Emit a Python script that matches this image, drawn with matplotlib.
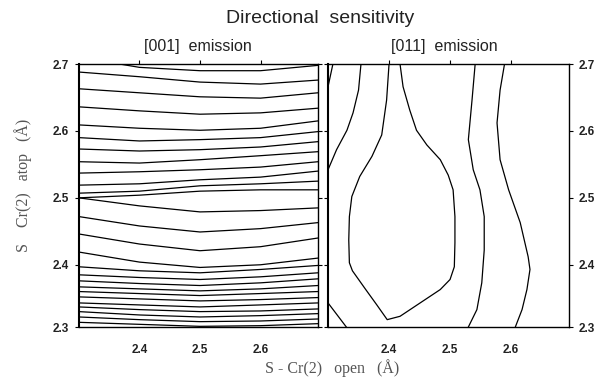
import numpy as np
import matplotlib
matplotlib.use('Agg')
import matplotlib.pyplot as plt

plt.rcParams['font.family'] = ['Liberation Sans', 'DejaVu Sans']

x_cols = [2.30, 2.40, 2.50, 2.60, 2.695]

top_001_x = [2.367, 2.40, 2.50, 2.60, 2.695]
top_001_y = [2.700, 2.695, 2.690, 2.690, 2.698]

upper_001 = [
    [2.688, 2.681, 2.673, 2.670, 2.676],
    [2.663, 2.657, 2.651, 2.649, 2.657],
    [2.636, 2.630, 2.625, 2.627, 2.634],
    [2.609, 2.604, 2.601, 2.604, 2.615],
    [2.590, 2.585, 2.587, 2.590, 2.599],
    [2.573, 2.570, 2.572, 2.576, 2.584],
    [2.554, 2.552, 2.557, 2.563, 2.569],
    [2.537, 2.539, 2.542, 2.546, 2.554],
    [2.519, 2.521, 2.527, 2.531, 2.540],
    [2.507, 2.510, 2.518, 2.521, 2.525],
    [2.500, 2.504, 2.510, 2.512, 2.512],
]

lower_001 = [
    [2.500, 2.488, 2.479, 2.481, 2.485],
    [2.472, 2.458, 2.449, 2.454, 2.463],
    [2.446, 2.431, 2.421, 2.427, 2.440],
    [2.419, 2.404, 2.396, 2.400, 2.410],
    [2.397, 2.391, 2.388, 2.393, 2.399],
    [2.385, 2.381, 2.378, 2.382, 2.388],
    [2.376, 2.372, 2.369, 2.373, 2.379],
    [2.367, 2.364, 2.361, 2.364, 2.369],
    [2.360, 2.357, 2.354, 2.357, 2.360],
    [2.352, 2.349, 2.346, 2.348, 2.351],
    [2.343, 2.340, 2.337, 2.340, 2.343],
    [2.337, 2.333, 2.330, 2.331, 2.334],
    [2.330, 2.325, 2.322, 2.324, 2.327],
    [2.322, 2.318, 2.315, 2.316, 2.319],
    [2.314, 2.311, 2.308, 2.309, 2.312],
]

# contour lines of the [011] panel (x, y pairs in Å)
curve_a_x = [2.308, 2.300]
curve_a_y = [2.700, 2.666]

curve_b_x = [2.354, 2.350, 2.341, 2.331, 2.314, 2.300]
curve_b_y = [2.700, 2.661, 2.627, 2.601, 2.572, 2.542]

curve_c_x = [2.400, 2.396, 2.388, 2.372, 2.352, 2.339, 2.335, 2.334, 2.335,
             2.340, 2.361, 2.380, 2.397, 2.418, 2.451, 2.484, 2.500, 2.507,
             2.508, 2.508, 2.505, 2.497, 2.484, 2.462, 2.445, 2.434, 2.423,
             2.418]
curve_c_y = [2.700, 2.646, 2.594, 2.562, 2.532, 2.502, 2.472, 2.437, 2.403,
             2.391, 2.364, 2.340, 2.318, 2.323, 2.343, 2.363, 2.378, 2.397,
             2.433, 2.472, 2.512, 2.534, 2.557, 2.579, 2.601, 2.631, 2.666,
             2.700]

curve_d_x = [2.300, 2.330]
curve_d_y = [2.343, 2.307]

curve_e_x = [2.541, 2.536, 2.530, 2.538, 2.549, 2.556, 2.556, 2.552, 2.544, 2.530]
curve_e_y = [2.6985, 2.646, 2.587, 2.542, 2.512, 2.472, 2.422, 2.373, 2.333, 2.307]

curve_f_x = [2.589, 2.582, 2.577, 2.582, 2.596, 2.615, 2.628, 2.631, 2.626, 2.618, 2.607]
curve_f_y = [2.6985, 2.661, 2.612, 2.557, 2.512, 2.463, 2.412, 2.393, 2.363, 2.333, 2.307]

y_ticks = [2.307, 2.4, 2.5, 2.6, 2.7]
y_ticklabels = ['2.3', '2.4', '2.5', '2.6', '2.7']
x_ticks = [2.4, 2.5, 2.6]
x_ticklabels = ['2.4', '2.5', '2.6']

fig = plt.figure(figsize=(6.01, 3.77), dpi=100)
ax1 = fig.add_axes([0.1314, 0.1326, 0.3977, 0.6976])
ax2 = fig.add_axes([0.5458, 0.1326, 0.4010, 0.6976])

lc = dict(color='black', lw=0.9)

ax1.plot(top_001_x, top_001_y, **lc)
for line in upper_001 + lower_001:
    ax1.plot(x_cols, line, **lc)

for cx, cy in [(curve_a_x, curve_a_y), (curve_b_x, curve_b_y),
               (curve_c_x, curve_c_y), (curve_d_x, curve_d_y),
               (curve_e_x, curve_e_y), (curve_f_x, curve_f_y)]:
    ax2.plot(cx, cy, **lc)

tick_font = dict(fontsize=8.5, fontweight='bold', color='#222222')
for ax in (ax1, ax2):
    ax.set_xlim(2.3, 2.695)
    ax.set_ylim(2.307, 2.7)
    ax.set_xticks(x_ticks)
    ax.set_xticklabels(x_ticklabels, **tick_font)
    ax.set_yticks(y_ticks)
    ax.set_yticklabels(y_ticklabels, **tick_font)
    for s in ax.spines.values():
        s.set_linewidth(1.0)
    ax.tick_params(axis='x', which='both', direction='out', length=3, width=0.8,
                   top=True, bottom=False, pad=9)

ax1.tick_params(axis='y', direction='out', length=3, width=0.8,
                left=True, right=True, labelleft=True, labelright=False, pad=4)
ax1.spines['left'].set_linewidth(1.5)
ax2.tick_params(axis='y', direction='out', length=3, width=0.8,
                left=True, right=True, labelleft=False, labelright=True, pad=4)
ax2.spines['left'].set_linewidth(1.5)

fig.text(0.532, 0.952, 'Directional  sensitivity', ha='center', va='center',
         fontsize=14, color='#222222')
fig.text(0.329, 0.876, '[001]  emission', ha='center', va='center',
         fontsize=11.5, color='#222222')
fig.text(0.740, 0.876, '[011]  emission', ha='center', va='center',
         fontsize=11.5, color='#222222')

fig.text(0.038, 0.509, 'S    Cr(2)   atop   (Å)', rotation=90, ha='center',
         va='center', fontsize=11.5, family='Liberation Serif', color='#555555')
fig.text(0.552, 0.025, 'S - Cr(2)   open   (Å)', ha='center', va='center',
         fontsize=11.5, family='Liberation Serif', color='#555555')

fig.savefig('out.png', dpi=100)
